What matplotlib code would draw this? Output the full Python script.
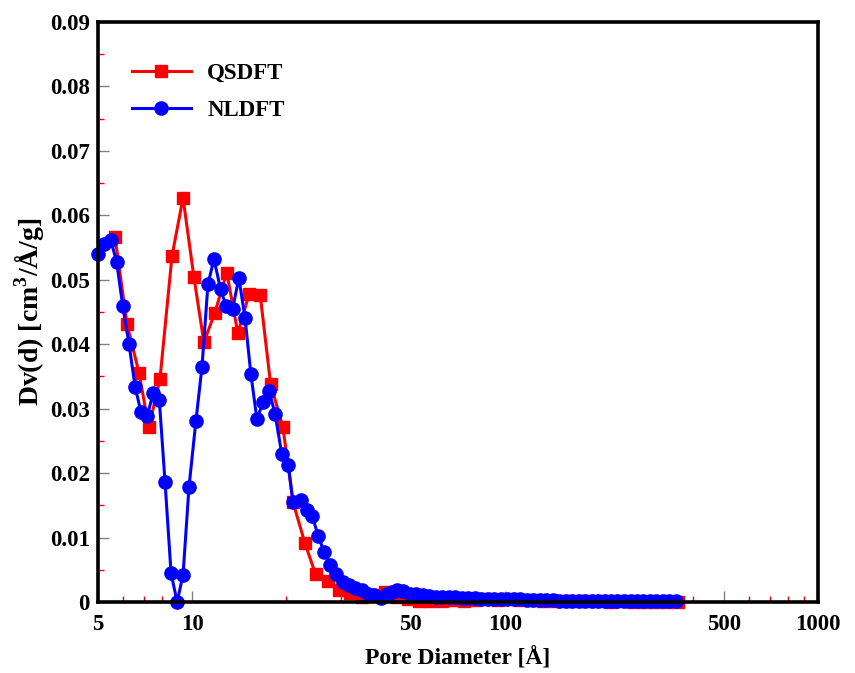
import matplotlib
matplotlib.use("Agg")
import matplotlib.pyplot as plt
from matplotlib.ticker import FixedLocator, NullFormatter

plt.rcParams['font.family'] = ['Liberation Serif', 'DejaVu Serif']
plt.rcParams['font.weight'] = 'bold'
plt.rcParams['mathtext.fontset'] = 'custom'
plt.rcParams['mathtext.rm'] = 'Liberation Serif:bold'

qsdft_x = [5.67, 6.19, 6.76, 7.27, 7.89, 8.62, 9.35, 10.13, 10.9, 11.8, 12.9, 14.0,
           15.2, 16.5, 17.8, 19.5, 21.0, 22.9, 24.8, 27.2, 29.5, 31.9, 34.8, 37.8,
           41.4, 45.0, 48.9, 53.1, 57.7, 62.7, 68.1, 74.0, 80.4, 87.3, 94.9, 103,
           112, 122, 132, 144, 156, 170, 184, 200, 218, 236, 257, 279, 303, 329, 357]
qsdft_y = [0.0566, 0.0431, 0.0356, 0.0271, 0.0346, 0.0537, 0.0627, 0.0504, 0.0403,
           0.0448, 0.0511, 0.0417, 0.0478, 0.0476, 0.0339, 0.0271, 0.0155, 0.0092,
           0.0043, 0.0033, 0.0019, 0.0014, 0.0008, 0.0011, 0.0015, 0.0008, 0.0004,
           0.0002, 0.0001, 0.0002, 0.0003, 0.0002, 0.0003, 0.0004, 0.0003, 0.0004,
           0.0003, 0.0003, 0.0002, 0.0002, 0.0001, 0.0001, 0.0001, 0.0001, 0.0,
           0.0001, 0.0, 0.0, 0.0, 0.0, 0.0]

nldft_x = [4.99, 5.22, 5.49, 5.74, 6.00, 6.28, 6.57, 6.86, 7.18, 7.51, 7.85, 8.19,
           8.56, 8.95, 9.35, 9.77, 10.28, 10.75, 11.23, 11.74, 12.33, 12.82, 13.47,
           14.10, 14.75, 15.40, 16.10, 16.85, 17.60, 18.40, 19.35, 20.30, 21.00,
           22.20, 23.30, 24.20, 25.30, 26.40, 27.60, 28.90, 30.30, 31.70, 33.20,
           34.80, 36.40, 38.20, 40.00, 41.80, 43.40, 45.00, 47.20, 49.50, 51.80,
           54.50, 57.30, 60.20, 63.00, 66.1, 69.3, 72.7, 76.2, 80.0, 83.9, 88.0,
           92.3, 96.8, 101.5, 106.5, 111.7, 117.2, 122.9, 128.9, 135.2, 141.8,
           148.8, 156.1, 163.7, 171.7, 180.1, 188.9, 198.2, 207.9, 218.0, 228.7,
           239.9, 251.7, 264.0, 276.9, 290.4, 304.6, 319.5, 335.2, 351.6]
nldft_y = [0.0540, 0.0556, 0.0562, 0.0527, 0.0459, 0.0401, 0.0334, 0.0295, 0.0288,
           0.0325, 0.0314, 0.0186, 0.0045, 0.0000, 0.0042, 0.0179, 0.0281, 0.0365,
           0.0493, 0.0532, 0.0485, 0.0460, 0.0455, 0.0503, 0.0441, 0.0354, 0.0284,
           0.0310, 0.0328, 0.0292, 0.0229, 0.0212, 0.0155, 0.0158, 0.0142, 0.0133,
           0.0102, 0.0078, 0.0057, 0.0043, 0.0031, 0.0026, 0.0021, 0.0019, 0.0013,
           0.0011, 0.0006, 0.0013, 0.0016, 0.0019, 0.0017, 0.0013, 0.0012, 0.0011,
           0.0010, 0.0008, 0.0008, 0.0007, 0.0007, 0.0006, 0.0006, 0.0006, 0.0005,
           0.0005, 0.0005, 0.0004, 0.0004, 0.0004, 0.0004, 0.0003, 0.0003, 0.0003,
           0.0003, 0.0003, 0.0002, 0.0002, 0.0002, 0.0002, 0.0002, 0.0002, 0.0002,
           0.0001, 0.0001, 0.0001, 0.0001, 0.0001, 0.0001, 0.0001, 0.0001, 0.0001,
           0.0001, 0.0001, 0.0001]

x_major = [5, 10, 50, 100, 500, 1000]
x_labels = ['5', '10', '50', '100', '500', '1000']
x_minor = [6, 7, 8, 9, 20, 30, 40, 60, 70, 80, 90, 200, 300, 400, 600, 700, 800, 900]
y_major = [0, 0.01, 0.02, 0.03, 0.04, 0.05, 0.06, 0.07, 0.08, 0.09]
y_labels = ['0', '0.01', '0.02', '0.03', '0.04', '0.05', '0.06', '0.07', '0.08', '0.09']
y_minor = [0.005, 0.015, 0.025, 0.035, 0.045, 0.055, 0.065, 0.075, 0.085]

fig = plt.figure(figsize=(8.55, 6.73), dpi=100)
ax = fig.add_axes([0.1146, 0.1055, 0.8421, 0.8618])

ax.plot(qsdft_x, qsdft_y, color='#ff0000', lw=2.2, marker='s', ms=9,
        mec='#ff0000', mfc='#ff0000', label='QSDFT', clip_on=False, zorder=3)
ax.plot(nldft_x, nldft_y, color='#0000ff', lw=2.2, marker='o', ms=9.5,
        mec='#0000ff', mfc='#0000ff', label='NLDFT', clip_on=False, zorder=4)

ax.set_xscale('log')
ax.set_xlim(5, 1000)
ax.set_ylim(0, 0.09)

ax.xaxis.set_major_locator(FixedLocator(x_major))
ax.set_xticklabels(x_labels)
ax.xaxis.set_minor_locator(FixedLocator(x_minor))
ax.xaxis.set_minor_formatter(NullFormatter())
ax.set_yticks(y_major)
ax.set_yticklabels(y_labels)
ax.yaxis.set_minor_locator(FixedLocator(y_minor))

for sp in ax.spines.values():
    sp.set_linewidth(2.6)
    sp.set_zorder(5)

ax.tick_params(which='major', direction='in', length=8, width=1.0, color='#808080',
               labelsize=16.5, top=False, right=False)
ax.tick_params(axis='x', which='major', pad=9)
ax.tick_params(axis='y', which='major', pad=6)
ax.tick_params(which='minor', direction='in', length=4, width=1.0, color='#ff0000',
               top=False, right=False)
for lab in ax.get_xticklabels() + ax.get_yticklabels():
    lab.set_fontweight('bold')

ax.set_xlabel('Pore Diameter [Å]', fontsize=17, fontweight='bold', labelpad=8)
ax.set_ylabel('Dv(d) [cm$^3$/Å/g]', fontsize=20, fontweight='bold', labelpad=2)

leg = ax.legend(loc='upper left', bbox_to_anchor=(0.018, 0.965), frameon=False,
                fontsize=16.5, handlelength=2.6, labelspacing=0.7, handletextpad=0.7)
for t in leg.get_texts():
    t.set_fontweight('bold')

fig.savefig('out.png', dpi=100)
